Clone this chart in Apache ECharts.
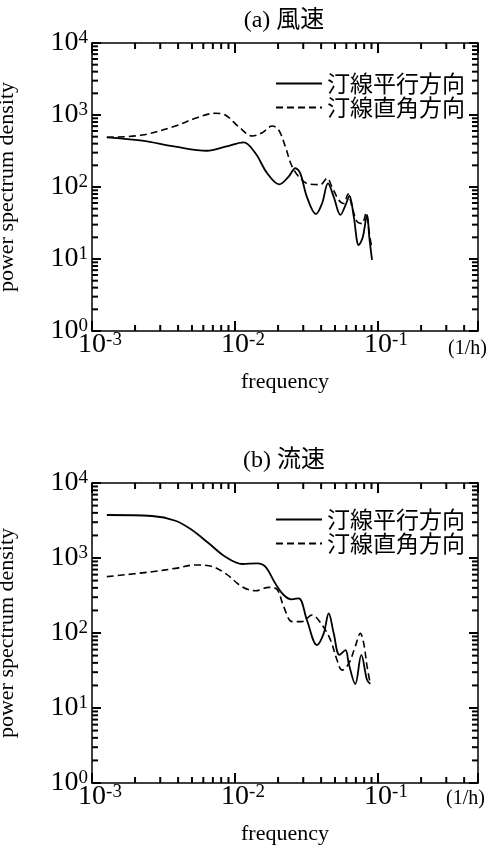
<!DOCTYPE html>
<html>
<head>
<meta charset="utf-8">
<script src="https://cdn.jsdelivr.net/npm/echarts@6/dist/echarts.min.js"></script>
<style>html,body{margin:0;padding:0;background:#fff;}#c{width:494px;height:850px;}</style>
</head>
<body>
<div id="c"></div>
<script>
// ---- data ----
const seriesNames = ['汀線平行方向', '汀線直角方向'];
const titles = ['(a) 風速', '(b) 流速'];
const xTickValues = [0.001, 0.01, 0.1];
const yTickValues = [1, 10, 100, 1000, 10000];

// (a) wind speed, parallel to shoreline (solid)
const windParF = [0.00127, 0.00224, 0.00383, 0.00637, 0.00855, 0.0115, 0.0139, 0.0168, 0.0204, 0.0237, 0.0264, 0.0286, 0.0318, 0.0368, 0.0406, 0.0447, 0.049, 0.0546, 0.0592, 0.0631, 0.0676, 0.0733, 0.0782, 0.0838, 0.0869, 0.0908];
const windParV = [490, 440, 363, 319, 363, 418, 294, 155, 109, 139, 182, 155, 73, 42, 59, 112, 73, 41, 56, 75, 39, 15.6, 20, 41, 20, 9.7];
// (a) wind speed, perpendicular (dashed)
const windPerF = [0.00127, 0.00224, 0.00383, 0.00528, 0.00728, 0.00855, 0.0106, 0.0132, 0.0155, 0.0182, 0.0202, 0.0225, 0.0248, 0.0279, 0.0327, 0.0395, 0.044, 0.0476, 0.0531, 0.0575, 0.0617, 0.0658, 0.0713, 0.0773, 0.0824, 0.0869, 0.0897];
const windPerV = [490, 527, 703, 900, 1057, 1000, 688, 510, 567, 703, 620, 363, 202, 139, 110, 108, 132, 101, 66, 59, 80, 53, 33, 31, 43, 22.8, 15.6];
// (b) current speed, parallel (solid)
const currParF = [0.00127, 0.00263, 0.00383, 0.005, 0.00655, 0.00855, 0.0112, 0.0143, 0.0163, 0.0191, 0.0219, 0.0248, 0.0279, 0.0318, 0.0374, 0.0417, 0.0452, 0.049, 0.0537, 0.0592, 0.0624, 0.0693, 0.0764, 0.0838, 0.0883];
const currParV = [3743, 3630, 3140, 2362, 1570, 1040, 832, 850, 766, 459, 321, 281, 290, 149, 69, 99, 183, 99, 51, 59, 39, 20.9, 51, 23.6, 21];
// (b) current speed, perpendicular (dashed)
const currPerF = [0.00127, 0.00263, 0.00383, 0.00528, 0.00655, 0.00855, 0.0112, 0.0139, 0.0172, 0.0197, 0.0219, 0.0251, 0.0294, 0.0345, 0.0406, 0.0465, 0.0516, 0.056, 0.0624, 0.0693, 0.0752, 0.0794, 0.0838, 0.0883];
const currPerV = [564, 656, 728, 807, 790, 625, 414, 366, 406, 380, 224, 142, 142, 174, 128, 81, 44, 32, 39, 66, 99, 73, 36, 21];

// ---- chart ----
const SERIF = '"Liberation Serif", "Times New Roman", serif';
const MIX = '"Liberation Serif", "Noto Sans CJK JP", serif';
const CJK = '"Noto Sans CJK JP", "Liberation Serif", sans-serif';
const XMIN = 0.001, XMAX = 0.5, YMIN = 1, YMAX = 10000;

function pairs(f, v) { return f.map((x, i) => [x, v[i]]); }
function isPow10(v) { const e = Math.log10(v); return Math.abs(e - Math.round(e)) < 1e-6; }
function powLabel(v) {
  if (!isPow10(v)) return '';
  return '{b|10}{s|' + Math.round(Math.log10(v)) + '}';
}
function logTicks(lo, hi) {
  const out = [];
  for (let k = -4; k <= 5; k++) for (let m = 1; m <= 9; m++) {
    const v = m * Math.pow(10, k);
    if (v > lo * 1.0001 && v < hi * 0.9999) out.push({ v: v, major: m === 1 });
  }
  return out;
}
const xTicks = logTicks(XMIN, XMAX);
const yTicks = logTicks(YMIN, YMAX);

const grids = [
  { left: 92, top: 43, width: 386, height: 288, outerBoundsMode: 'none' },
  { left: 92, top: 483, width: 386, height: 300, outerBoundsMode: 'none' }
];

const xAxes = [], yAxes = [], series = [], legends = [], titleArr = [];
grids.forEach((g, gi) => {
  xAxes.push({
    type: 'log', min: XMIN, max: XMAX, gridIndex: gi, position: 'bottom',
    name: 'frequency', nameLocation: 'middle', nameGap: 40, nameMoveOverlap: false,
    nameTextStyle: { fontFamily: SERIF, fontSize: 22, color: '#000' },
    axisLine: { show: true, lineStyle: { color: '#000', width: 1.5 } },
    axisTick: { show: true, inside: true, length: 10, lineStyle: { color: '#000', width: 2 } },
    splitLine: { show: false },
    axisLabel: {
      show: true, formatter: powLabel, margin: 0, color: '#000',
      rich: {
        b: { fontFamily: SERIF, fontSize: 28, color: '#000', padding: [0, 0, 0, 16] },
        s: { fontFamily: SERIF, fontSize: 19, color: '#000', verticalAlign: 'top' }
      }
    }
  });
  xAxes.push({
    type: 'log', min: XMIN, max: XMAX, gridIndex: gi, position: 'top',
    axisLine: { show: true, lineStyle: { color: '#000', width: 1.5 } },
    axisTick: { show: true, inside: true, length: 10, lineStyle: { color: '#000', width: 2 } },
    splitLine: { show: false }, axisLabel: { show: false }
  });
  yAxes.push({
    type: 'log', min: YMIN, max: YMAX, gridIndex: gi, position: 'left',
    name: 'power spectrum density', nameLocation: 'middle', nameGap: 74, nameRotate: 90, nameMoveOverlap: false,
    nameTextStyle: { fontFamily: SERIF, fontSize: 22, color: '#000' },
    axisLine: { show: true, lineStyle: { color: '#000', width: 1.5 } },
    axisTick: { show: true, inside: true, length: 9, lineStyle: { color: '#000', width: 2 } },
    splitLine: { show: false },
    axisLabel: {
      show: true, formatter: powLabel, margin: 4, color: '#000',
      rich: {
        b: { fontFamily: SERIF, fontSize: 28, color: '#000' },
        s: { fontFamily: SERIF, fontSize: 19, color: '#000', verticalAlign: 'top' }
      }
    }
  });
  yAxes.push({
    type: 'log', min: YMIN, max: YMAX, gridIndex: gi, position: 'right',
    axisLine: { show: true, lineStyle: { color: '#000', width: 1.5 } },
    axisTick: { show: true, inside: true, length: 9, lineStyle: { color: '#000', width: 2 } },
    splitLine: { show: false }, axisLabel: { show: false }
  });
  titleArr.push({
    text: titles[gi], left: 279, textAlign: 'center', top: gi === 0 ? 4 : 444,
    textStyle: { fontFamily: MIX, fontSize: 24, fontWeight: 'normal', color: '#000' }
  });
  legends.push({
    data: seriesNames, orient: 'vertical', right: 29, top: gi === 0 ? 72 : 508,
    padding: 0, itemGap: 1, itemWidth: 46, itemHeight: 14, selectedMode: false,
    itemStyle: { color: 'rgba(0,0,0,0)', borderWidth: 0, borderColor: 'rgba(0,0,0,0)' },
    textStyle: { fontFamily: CJK, fontSize: 23, color: '#000', lineHeight: 22 }
  });
});

const lineBase = { type: 'line', showSymbol: false, symbol: 'none', smooth: 0.35, color: '#000' };
series.push(Object.assign({}, lineBase, { name: seriesNames[0], xAxisIndex: 0, yAxisIndex: 0, data: pairs(windParF, windParV), lineStyle: { width: 1.8, color: '#000', type: 'solid' } }));
series.push(Object.assign({}, lineBase, { name: seriesNames[1], xAxisIndex: 0, yAxisIndex: 0, data: pairs(windPerF, windPerV), lineStyle: { width: 1.6, color: '#000', type: [7, 4] } }));
series.push(Object.assign({}, lineBase, { name: seriesNames[0], xAxisIndex: 2, yAxisIndex: 2, data: pairs(currParF, currParV), lineStyle: { width: 1.8, color: '#000', type: 'solid' } }));
series.push(Object.assign({}, lineBase, { name: seriesNames[1], xAxisIndex: 2, yAxisIndex: 2, data: pairs(currPerF, currPerV), lineStyle: { width: 1.6, color: '#000', type: [7, 4] } }));

const chart = echarts.init(document.getElementById('c'), null, { renderer: 'canvas' });
chart.setOption({
  backgroundColor: '#fff',
  animation: false,
  title: titleArr,
  legend: legends,
  grid: grids,
  xAxis: xAxes,
  yAxis: yAxes,
  series: series
});

// log ticks (major + minor) placed through the axes' own scales
const gfx = [
  { type: 'text', left: 448, top: 339, style: { text: '(1/h)', fontFamily: SERIF, fontSize: 20, fill: '#000' } },
  { type: 'text', left: 446, top: 789, style: { text: '(1/h)', fontFamily: SERIF, fontSize: 20, fill: '#000' } }
];
function seg(x1, y1, x2, y2) {
  return { type: 'line', shape: { x1: x1, y1: y1, x2: x2, y2: y2 }, style: { stroke: '#000', lineWidth: 2 } };
}
[0, 1].forEach(gi => {
  const finder = { xAxisIndex: gi * 2, yAxisIndex: gi * 2 };
  xTicks.forEach(t => {
    const L = t.major ? 10 : 6;
    const b = chart.convertToPixel(finder, [t.v, YMIN]);
    const bx = b[0], by = b[1];
    const tp = chart.convertToPixel(finder, [t.v, YMAX]);
    const tx = tp[0], ty = tp[1];
    gfx.push(seg(bx, by, bx, by - L));
    gfx.push(seg(tx, ty, tx, ty + L));
  });
  yTicks.forEach(t => {
    const L = t.major ? 9 : 6;
    const l = chart.convertToPixel(finder, [XMIN, t.v]);
    const lx = l[0], ly = l[1];
    const r = chart.convertToPixel(finder, [XMAX, t.v]);
    const rx = r[0], ry = r[1];
    gfx.push(seg(lx, ly, lx + L, ly));
    gfx.push(seg(rx, ry, rx - L, ry));
  });
});
chart.setOption({ graphic: gfx });
</script>
</body>
</html>
